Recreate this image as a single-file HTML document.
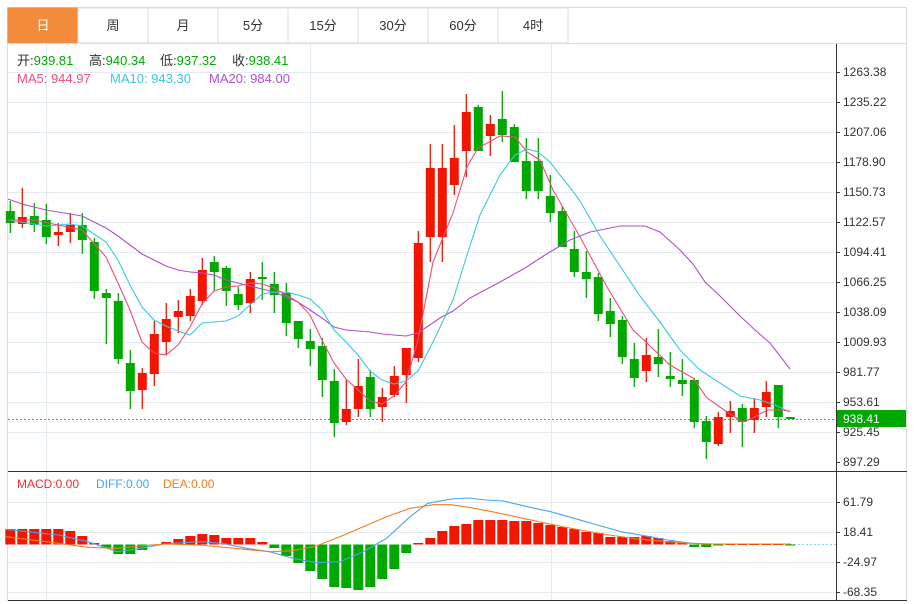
<!DOCTYPE html>
<html><head><meta charset="utf-8"><style>
body{margin:0;background:#fff;width:914px;height:604px;overflow:hidden;font-family:"Liberation Sans","Noto Sans CJK SC",sans-serif}
svg{position:absolute;left:0;top:0}
</style></head><body>
<svg id="s" width="914" height="604" xmlns="http://www.w3.org/2000/svg" font-family="Liberation Sans, Noto Sans CJK SC, sans-serif"></svg>
<script>
const S=document.getElementById('s');let h='';
h+='<rect x="7.5" y="7.5" width="899" height="593" fill="#fff" stroke="#dcdcdc"/>';
const tabs=['日','周','月','5分','15分','30分','60分','4时'];
tabs.forEach((t,i)=>{const x=8+i*70;
 h+=`<rect x="${x}" y="8" width="70" height="35" fill="${i==0?'#f28c3c':'#fff'}" stroke="${i==0?'#f28c3c':'#dcdcdc'}"/>`;
 h+=`<text x="${x+35}" y="30" font-size="13" text-anchor="middle" fill="${i==0?'#fff':'#333'}">${t}</text>`;});
h+='<line x1="8" y1="43.5" x2="907" y2="43.5" stroke="#dcdcdc"/>';
for(let k=0;k<13;k++){const y=72+30*k;h+=`<line x1="8" y1="${y+.5}" x2="836" y2="${y+.5}" stroke="#e3ebf1"/>`;}
[46,310,551].forEach(x=>h+=`<line x1="${x+.5}" y1="44" x2="${x+.5}" y2="600" stroke="#e3ebf1"/>`);
[502,532,562,592].forEach(y=>h+=`<line x1="8" y1="${y+.5}" x2="836" y2="${y+.5}" stroke="#e3ebf1"/>`);
const labs=['1263.38','1235.22','1207.06','1178.90','1150.73','1122.57','1094.41','1066.25','1038.09','1009.93','981.77','953.61','925.45'];
labs.forEach((l,k)=>{const y=72+30*k;h+=`<line x1="836" y1="${y+.5}" x2="840" y2="${y+.5}" stroke="#333"/><text x="843" y="${y+4}" font-size="12" fill="#333">${l}</text>`;});
h+=`<line x1="836" y1="462.5" x2="840" y2="462.5" stroke="#333"/><text x="843" y="466" font-size="12" fill="#333">897.29</text>`;
[['61.79',502],['18.41',532],['-24.97',562],['-68.35',592]].forEach(([l,y])=>h+=`<line x1="836" y1="${y+.5}" x2="840" y2="${y+.5}" stroke="#333"/><text x="843" y="${y+4}" font-size="12" fill="#333">${l}</text>`);
const C=[[211,223,201,233,0],[217,224,188,228,1],[216,225,203,232,0],[220,237,204,244,0],[232,235,223,246,1],[225,232,213,243,1],[225,240,213,254,0],[242,291,238,299,0],[293,298,289,344,0],[301,359,293,364,0],[363,391,350,409,0],[373,390,368,409,1],[334,374,321,386,1],[319,342,303,355,1],[311,317,300,333,1],[296,316,289,321,1],
[270,301,258,305,1],[262,272,256,291,0],[268,291,266,306,0],[294,305,287,310,0],[279,303,272,313,1],[277,279,262,300,0],[284,295,272,313,0],[293,323,283,336,0],[321,339,321,348,0],[341,349,329,366,0],[346,380,338,397,0],[381,423,369,437,0],[409,422,380,425,1],[386,409,359,417,1],[377,409,370,417,0],[397,407,388,422,1],[376,395,366,397,1],[348,375,348,403,1],
[243,358,231,362,1],[168,237,144,262,1],[168,237,144,262,1],[158,185,125,195,1],[112,151,94,177,1],[107,151,105,151,0],[124,136,115,156,1],[119,135,91,142,0],[127,162,124,162,0],[161,191,138,199,0],[161,191,138,199,0],[196,213,175,222,0],[211,247,206,247,0],[249,272,231,277,0],[272,279,251,298,0],[277,314,273,321,0],[311,324,298,337,0],[320,357,316,364,0],[359,378,343,387,0],[355,371,338,382,1],[357,364,329,377,0],[376,379,352,387,0],[380,384,359,396,0],[380,422,378,428,0],[421,442,416,459,0],[417,444,412,446,1],[411,417,401,433,1],[408,422,404,447,0],[408,420,398,433,1],[392,407,381,417,1],[385,417,385,428,0],[417,419,417,419,0]];
const G='#00a800',R='#f21500';
h+='<line x1="8" y1="419.5" x2="836" y2="419.5" stroke="#40b840" stroke-dasharray="2,2"/>';
C.forEach((c,i)=>{const x=10.3+12*i,col=c[4]?R:G;
 h+=`<line x1="${x}" y1="${c[2]}" x2="${x}" y2="${c[3]}" stroke="${col}" stroke-width="1.3"/>`;
 h+=`<rect x="${x-4.5}" y="${c[0]}" width="9" height="${Math.max(1.5,c[1]-c[0])}" fill="${col}"/>`;});
const pl=(pts,col)=>`<polyline fill="none" stroke="${col}" stroke-width="1.1" points="${pts.map(p=>p.join(',')).join(' ')}"/>`;
h+=pl([[8,199],[22,204],[46,210],[70,214],[82,216],[94,222],[106,228],[118,236],[130,245],[142,254],[154,260],[166,266],[178,270],[190,272],[202,273],[214,275],[226,280],[238,283],[250,286],[262,289],[274,292],[286,297],[298,302],[310,310],[322,318],[334,327],[346,330],[358,331],[370,332],[382,334],[394,335],[406,336],[418,333],[440,318],[453,311],[470,298],[500,282],[525,268],[545,255],[570,240],[590,232],[620,226],[645,226],[660,232],[680,250],[693,264],[705,282],[720,296],[740,316],[755,330],[770,343],[790,369]],'#b04fcc');
h+=pl([[8,220],[46,226],[70,224],[82,226],[106,242],[118,260],[130,285],[142,307],[154,320],[166,326],[178,331],[190,335],[202,323],[226,321],[238,316],[250,305],[262,294],[274,292],[286,292],[298,295],[310,299],[322,310],[334,330],[346,342],[358,355],[370,371],[382,380],[394,384],[406,381],[418,371],[433,342],[453,300],[467,255],[480,215],[500,175],[515,155],[527,149],[538,152],[550,162],[560,175],[572,190],[580,201],[600,236],[620,266],[640,296],[660,322],[680,350],[700,370],[720,383],[740,396],[760,400],[775,405],[790,412]],'#3cc8dc');
h+=pl([[8,220],[34,220],[58,225],[82,230],[106,257],[118,283],[130,310],[142,342],[154,353],[166,355],[178,345],[190,327],[202,304],[214,291],[226,287],[238,286],[250,283],[262,284],[274,288],[286,295],[298,302],[310,315],[322,340],[334,363],[346,379],[358,390],[370,401],[382,404],[394,396],[406,382],[418,340],[433,262],[453,213],[467,167],[478,148],[500,136],[515,137],[527,152],[540,160],[553,190],[580,237],[607,287],[633,330],[647,343],[670,365],[693,378],[707,398],[727,412],[743,422],[753,418],[767,410],[780,410],[790,411]],'#ec4d7e');
h+='<rect x="836" y="410" width="70" height="17" fill="#00a800"/><text x="843" y="423" font-size="12" fill="#fff">938.41</text>';
[['开',17,'939.81'],['高',89,'940.34'],['低',160,'937.32'],['收',232,'938.41']].forEach(([a,x,v])=>h+=`<text x="${x}" y="65" font-size="13" fill="#333">${a}:<tspan fill="#00a800">${v}</tspan></text>`);
h+='<text x="17" y="83" font-size="13" fill="#ec4d7e">MA5: 944.97</text><text x="110" y="83" font-size="13" fill="#3cc8dc">MA10: 943.30</text><text x="209" y="83" font-size="13" fill="#b04fcc">MA20: 984.00</text>';
h+='<text x="17" y="488" font-size="12" fill="#f03030">MACD:0.00</text><text x="96" y="488" font-size="12" fill="#4aa3f0">DIFF:0.00</text><text x="163" y="488" font-size="12" fill="#f08020">DEA:0.00</text>';
const M=[529,529,529,529,529,531,536,543,548,554,554,550,545,542,539,536,534,535,538,538,538,542,548,556,563,571,579,587,588,590,587,579,569,553,543,538,531,526,524,520,520,520,521,521,523,525,527,529,532,533,537,537,537,536,538,541,543,547,547,545,544,544,544,544,544,545];
const Z=544.5;
h+=`<line x1="790" y1="${Z}" x2="836" y2="${Z}" stroke="#8fd6e8" stroke-dasharray="2,2"/>`;
M.forEach((y,i)=>{const x=10.3+12*i;const g=y>Z;h+=`<rect x="${x-5}" y="${Math.min(y,Z)}" width="10" height="${Math.max(1,Math.abs(y-Z))}" fill="${g?G:R}"/>`;});
const cv=a=>a.map(([x,y])=>[(x/1.707).toFixed(1),(470+y/3).toFixed(1)]);
h+=pl(cv([[10,178],[100,195],[150,215],[200,245],[240,235],[280,222],[340,215],[380,220],[420,235],[460,245],[500,265],[540,278],[580,275],[620,245],[660,205],[700,140],[730,100],[770,87],[800,84],[830,90],[860,93],[900,110],[940,125],[980,145],[1020,165],[1060,185],[1100,197],[1140,210],[1180,220],[1220,222],[1350,222]]),'#4aa3f0');
h+=pl(cv([[10,200],[100,220],[150,232],[200,235],[240,228],[280,222],[340,225],[400,235],[460,245],[500,242],[540,228],[580,200],[620,170],[660,140],[700,115],[740,104],[770,104],[800,112],[840,125],[880,140],[920,155],[960,170],[1000,183],[1040,195],[1080,205],[1120,212],[1160,218],[1200,222],[1350,222]]),'#f08020');
h+='<line x1="8" y1="471.5" x2="907" y2="471.5" stroke="#333"/><line x1="8" y1="600.5" x2="907" y2="600.5" stroke="#333"/><line x1="836.5" y1="44" x2="836.5" y2="601" stroke="#333"/>';
S.innerHTML=h;
</script>
</body></html>
